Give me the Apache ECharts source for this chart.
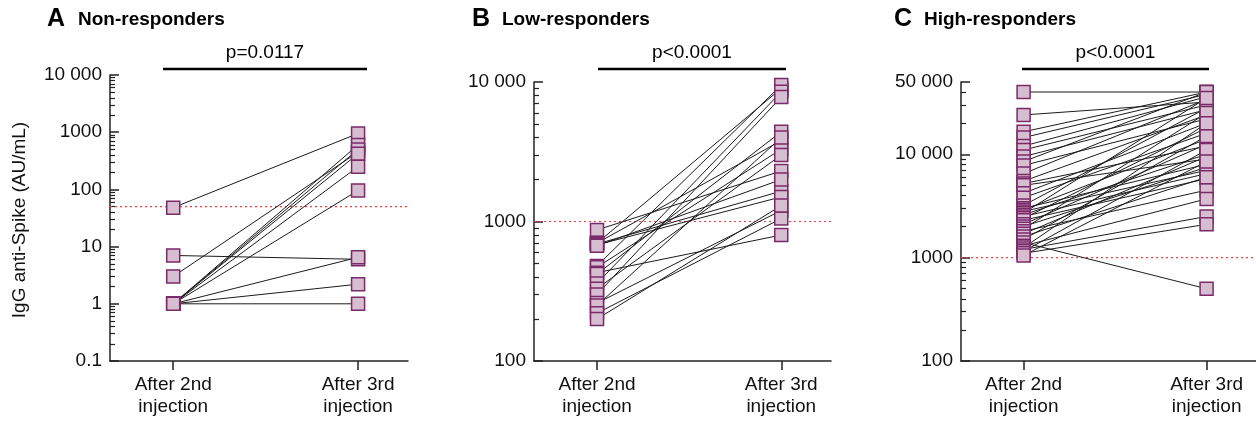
<!DOCTYPE html>
<html>
<head>
<meta charset="utf-8">
<script src="https://cdn.jsdelivr.net/npm/echarts@6/dist/echarts.min.js"></script>
<style>
html,body{margin:0;padding:0;background:#fff;}
#chart{width:1256px;height:423px;}
</style>
</head>
<body>
<div id="chart"></div>
<script>
// ---------- data ----------
const categories = ['After 2nd\ninjection', 'After 3rd\ninjection'];
const panelTitles = ['Non-responders', 'Low-responders', 'High-responders'];
const panelLetters = ['A', 'B', 'C'];
const pValues = ['p=0.0117', 'p<0.0001', 'p<0.0001'];
const thresholds = [50, 1000, 1000];

// Panel A: non-responders (after 2nd, after 3rd)
const nonAfter2 = [48, 7, 3, 1, 1, 1, 1, 1, 1, 1, 1];
const nonAfter3 = [950, 6, 450, 600, 500, 420, 250, 96, 6.5, 2.2, 1];

// Panel B: low-responders
const lowAfter2 = [870, 700, 700, 690, 680, 670, 480, 470, 430, 420, 360, 330, 300, 260, 250, 220, 200];
const lowAfter3 = [2300, 9000, 3800, 1650, 1500, 2000, 9500, 3300, 800, 4400, 8500, 3000, 7800, 1200, 4000, 1050, 1300];

// Panel C: high-responders
const highAfter2 = [40000, 24000, 16500, 14500, 12000, 11000, 9500, 8500, 7800, 6500, 5500, 5200, 5000, 4200, 3800,
  3200, 3000, 2900, 2800, 2700, 2600, 2500, 2400, 2300, 2100, 2000, 1900, 1800, 1700, 1600, 1500, 1400, 1300, 1250,
  1200, 1150, 1100, 1050];
const highAfter3 = [40000, 32000, 40000, 38000, 36000, 30000, 27000, 40000, 22000, 34000, 24000, 12000, 9000, 20000, 16000,
  28000, 8000, 14000, 7000, 35000, 10000, 6500, 18000, 5800, 12500, 7500, 25000, 4500, 9500, 6000, 15000, 500, 3700, 20000,
  2500, 11000, 2100, 8500];

// Axis ticks
const yRanges = [[0.1, 10000], [100, 10000], [100, 50000]];
const majorTicks = [[0.1, 1, 10, 100, 1000, 10000], [100, 1000, 10000], [100, 1000, 10000, 50000]];
const minorTicks = [
  [0.2,0.3,0.4,0.5,0.6,0.7,0.8,0.9,2,3,4,5,6,7,8,9,20,30,40,50,60,70,80,90,200,300,400,500,600,700,800,900,2000,3000,4000,5000,6000,7000,8000,9000],
  [200,300,400,500,600,700,800,900,2000,3000,4000,5000,6000,7000,8000,9000],
  [200,300,400,500,600,700,800,900,2000,3000,4000,5000,6000,7000,8000,9000,20000,30000,40000]
];
const panelData = [[nonAfter2, nonAfter3], [lowAfter2, lowAfter3], [highAfter2, highAfter3]];

// ---------- layout ----------
const X_MIN = -0.342, X_MAX = 1.27;
const grids = [
  {left: 110, top: 75, width: 298, height: 286},
  {left: 534, top: 82, width: 297, height: 279},
  {left: 961, top: 82, width: 295, height: 279}
];
const FONT = '"Liberation Sans", Arial, Helvetica, sans-serif';
const lineColor = '#1c1c1c';
const fill = '#d6bdd0';
const stroke = '#7a2a68';
const red = '#f03c3c';

function fmt(v) {
  const r = Number(Number(v).toPrecision(6));
  if (r >= 10000) {
    const s = String(r);
    return s.slice(0, s.length - 3) + ' ' + s.slice(s.length - 3);
  }
  return String(r);
}

const xAxes = [], yAxes = [], series = [];
grids.forEach((g, i) => {
  xAxes.push({
    type: 'value', gridIndex: i, min: X_MIN, max: X_MAX,
    splitLine: {show: false},
    axisLine: {show: true, onZero: false, lineStyle: {color: '#222', width: 1.5}},
    axisTick: {show: true, customValues: [0, 1], length: 9, lineStyle: {color: '#222', width: 1.5}},
    axisLabel: {show: true, customValues: [0, 1], formatter: v => categories[Math.round(v)],
      color: '#111', fontFamily: FONT, fontSize: 19, lineHeight: 22, margin: 13}
  });
  // major axis
  yAxes.push({
    type: 'log', logBase: 10, gridIndex: i, position: 'left', min: yRanges[i][0], max: yRanges[i][1],
    splitLine: {show: false},
    axisLine: {show: true, onZero: false, lineStyle: {color: '#222', width: 1.5}},
    axisTick: {show: true, inside: true, length: 9, customValues: majorTicks[i], lineStyle: {color: '#222', width: 1.5}},
    axisLabel: {show: true, customValues: majorTicks[i], formatter: fmt, color: '#111', fontFamily: FONT, fontSize: 19, margin: 8}
  });
  // minor ticks axis
  yAxes.push({
    type: 'log', logBase: 10, gridIndex: i, position: 'left', offset: 0, min: yRanges[i][0], max: yRanges[i][1],
    splitLine: {show: false},
    axisLine: {show: false, onZero: false},
    axisTick: {show: true, inside: true, length: 5, customValues: minorTicks[i], lineStyle: {color: '#222', width: 1.2}},
    axisLabel: {show: false}
  });
  const [pre, post] = panelData[i];
  // threshold line (dotted red), spanning the axis range
  series.push({
    type: 'line', xAxisIndex: i, yAxisIndex: 2 * i, z: 1, silent: true,
    data: [[X_MIN, thresholds[i]], [X_MAX, thresholds[i]]],
    showSymbol: false, symbol: 'none', color: red,
    lineStyle: {color: red, type: [2, 3], width: 1.2}
  });
  pre.forEach((a, k) => {
    series.push({
      type: 'line', xAxisIndex: i, yAxisIndex: 2 * i, data: [[0, a], [1, post[k]]],
      showSymbol: false, symbol: 'none', silent: true, z: 2,
      lineStyle: {color: lineColor, width: 1}
    });
  });
  const pts = pre.map(a => [0, a]).concat(post.map(b => [1, b]));
  series.push({
    type: 'scatter', xAxisIndex: i, yAxisIndex: 2 * i, data: pts, z: 3,
    symbol: 'rect', symbolSize: 13,
    itemStyle: {color: fill, borderColor: stroke, borderWidth: 1.5, opacity: 1}
  });
});

// ---------- annotations ----------
const titleX = [[47, 78], [472, 502], [894, 924]];
const bracket = [[163, 367], [598, 786], [1022, 1209]];
const graphics = [];
for (let i = 0; i < 3; i++) {
  graphics.push({type: 'text', x: titleX[i][0], y: 19, style: {text: panelLetters[i], font: 'bold 25px ' + FONT, fill: '#000', textVerticalAlign: 'middle'}});
  graphics.push({type: 'text', x: titleX[i][1], y: 20, style: {text: panelTitles[i], font: 'bold 19px ' + FONT, fill: '#000', textVerticalAlign: 'middle'}});
  graphics.push({type: 'line', shape: {x1: bracket[i][0], y1: 69, x2: bracket[i][1], y2: 69}, style: {stroke: '#000', lineWidth: 2.5}});
  graphics.push({type: 'text', x: (bracket[i][0] + bracket[i][1]) / 2, y: 53, style: {text: pValues[i], font: '19px ' + FONT, fill: '#000', textAlign: 'center', textVerticalAlign: 'middle'}});
}
graphics.push({type: 'text', x: 20, y: 220, rotation: Math.PI / 2,
  style: {text: 'IgG anti-Spike (AU/mL)', font: '19px ' + FONT, fill: '#111', textAlign: 'center', textVerticalAlign: 'middle'}});

const chart = echarts.init(document.getElementById('chart'), null, {renderer: 'canvas'});
chart.setOption({
  animation: false,
  backgroundColor: '#fff',
  grid: grids,
  xAxis: xAxes,
  yAxis: yAxes,
  series: series,
  graphic: graphics
});
</script>
</body>
</html>
